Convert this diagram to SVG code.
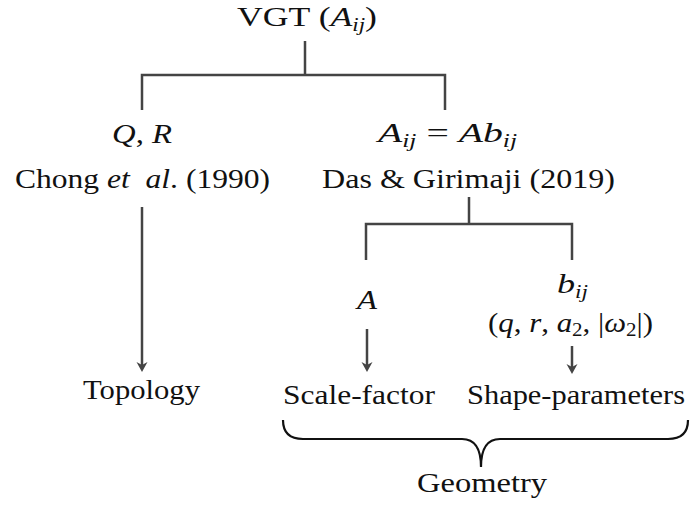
<svg xmlns="http://www.w3.org/2000/svg" width="696" height="506" viewBox="0 0 696 506">
<defs>
<style>
text{font-family:"Liberation Serif","Times New Roman",serif;font-size:28px;fill:#111;}
.i{font-style:italic;}
.s{font-size:18px;font-style:italic;}
.n{font-size:19px;}
.c{fill:none;stroke:#444;stroke-width:2.5;}
.brace{fill:none;stroke:#111;stroke-width:2.2;}
</style>
<marker id="ah" viewBox="0 -6 12 12" markerWidth="12" markerHeight="12" refX="6" refY="0" orient="auto" markerUnits="userSpaceOnUse">
<path d="M0,-5.5 L10,0 L0,5.5 L3,0 Z" fill="#444"/>
</marker>
</defs>
<rect width="696" height="506" fill="#fff"/>
<g id="connectors">
<path class="c" d="M305 41 V75 M142 110 V75 H445 V110"/>
<path class="c" d="M142 207 V368" marker-end="url(#ah)"/>
<path class="c" d="M469 197 V224 M366 260 V224 H572 V260"/>
<path class="c" d="M367 329 V368" marker-end="url(#ah)"/>
<path class="c" d="M572 346 V370" marker-end="url(#ah)"/>
<path class="brace" d="M283 420 C283 433 290 439 303 439 H462 C474 439 481 448 481 467 C481 448 488 439 500 439 H668 C681 439 688 433 688 420"/>
</g>
<g id="vgt"><text x="237" y="26" textLength="140" lengthAdjust="spacingAndGlyphs">VGT (<tspan class="i">A</tspan><tspan class="s" dy="5">ij</tspan><tspan dy="-5">)</tspan></text></g>
<g id="qr"><text x="112" y="143" textLength="60" lengthAdjust="spacingAndGlyphs"><tspan class="i">Q</tspan>, <tspan class="i">R</tspan></text></g>
<g id="chong"><text x="15" y="188" textLength="255" lengthAdjust="spacingAndGlyphs">Chong <tspan class="i">et</tspan>&#160; <tspan class="i">al</tspan>. (1990)</text></g>
<g id="aij"><text x="378" y="142" textLength="139" lengthAdjust="spacingAndGlyphs"><tspan class="i">A</tspan><tspan class="s" dy="5">ij</tspan><tspan dy="-5"> = </tspan><tspan class="i">Ab</tspan><tspan class="s" dy="5">ij</tspan></text></g>
<g id="das"><text x="322" y="188" textLength="293" lengthAdjust="spacingAndGlyphs">Das &amp; Girimaji (2019)</text></g>
<g id="topology"><text x="83" y="399" textLength="117" lengthAdjust="spacingAndGlyphs">Topology</text></g>
<g id="a"><text x="357" y="309" textLength="20" lengthAdjust="spacingAndGlyphs" class="i">A</text></g>
<g id="bij"><text x="557" y="293" textLength="31" lengthAdjust="spacingAndGlyphs"><tspan class="i">b</tspan><tspan class="s" dy="5">ij</tspan></text></g>
<g id="params"><text x="488" y="332" textLength="165" lengthAdjust="spacingAndGlyphs">(<tspan class="i">q</tspan>, <tspan class="i">r</tspan>, <tspan class="i">a</tspan><tspan class="n" dy="4">2</tspan><tspan dy="-4">, |</tspan><tspan class="i">ω</tspan><tspan class="n" dy="4">2</tspan><tspan dy="-4">|)</tspan></text></g>
<g id="scale"><text x="283" y="404" textLength="152" lengthAdjust="spacingAndGlyphs">Scale-factor</text></g>
<g id="shape"><text x="467" y="404" textLength="218" lengthAdjust="spacingAndGlyphs">Shape-parameters</text></g>
<g id="geometry"><text x="417" y="492" textLength="130" lengthAdjust="spacingAndGlyphs">Geometry</text></g>
</svg>
